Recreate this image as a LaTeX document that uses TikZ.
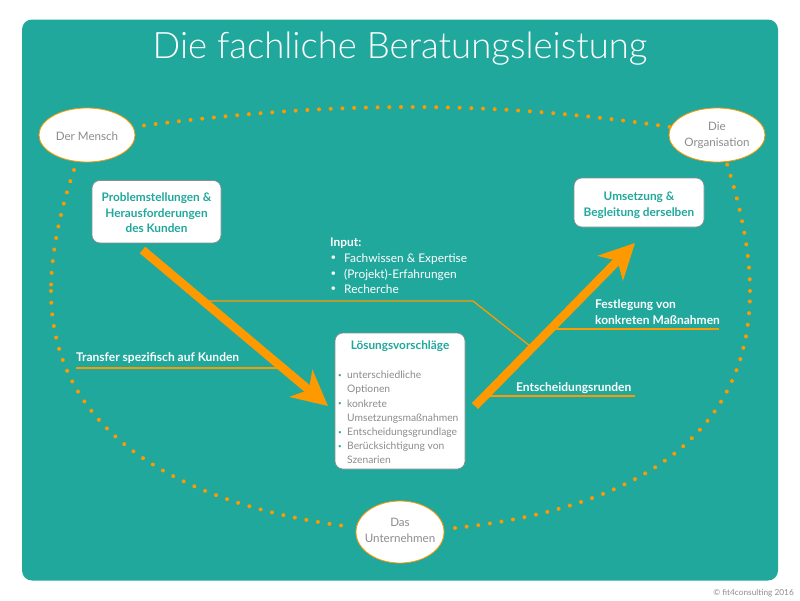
\documentclass[tikz,border=0pt]{standalone}
\usepackage{fontspec}
\setmainfont{Lato}
\newfontfamily\titlefont{Lato Light}
\usepackage{tikz}
\usetikzlibrary{arrows.meta}
\usetikzlibrary{shapes.geometric}
\definecolor{petrol}{HTML}{20A89C}
\definecolor{kante}{HTML}{FF9900}
\definecolor{grautext}{HTML}{8C8C8C}
\newcommand{\punkt}[2]{\makebox[#1][l]{\raisebox{0.15em}{\scalebox{#2}{\textbullet}}}}
\newcommand{\tief}[1]{\rule{0pt}{\dimexpr 0.74em+#1pt+#1pt\relax}}
\begin{document}
\begin{tikzpicture}[x=1pt,y=-1pt]
    \tikzstyle{kreis} = [draw=kante, fill=white, ellipse, line width=0.8pt, inner sep=0pt, minimum width=96pt, minimum height=54pt, align=center, text=grautext, font=\fontsize{11.6}{16}\selectfont];
    \tikzstyle{block} = [draw=grautext, fill=white, rectangle, rounded corners=8pt, line width=0.6pt, inner sep=0pt, align=center, text=petrol, font=\bfseries\fontsize{11.8}{15.6}\selectfont];
    \tikzstyle{hell} = [text=white, inner sep=0pt, align=left, font=\fontsize{11.9}{15.6}\selectfont];
    \tikzstyle{hellfett} = [hell, font=\bfseries\fontsize{12}{15.8}\selectfont];
    \tikzstyle{liste} = [inner sep=0pt, align=left, text=grautext, font=\fontsize{10.3}{14.2}\selectfont];
    \tikzstyle{dots} = [draw=kante, line width=4pt, line cap=round, dash pattern=on 0pt off 11.72pt];
    \tikzstyle{line} = [draw=kante, line width=1.3pt];
    \tikzstyle{pfeil} = [draw=kante, line width=8.5pt, -{Stealth[length=35pt,width=35pt,inset=10pt]}];
    \useasboundingbox (0,0) rectangle (800,600);
    \fill[petrol] (22,19.5) [rounded corners=10pt] rectangle (778,580.5);

    \node[text=white, inner sep=0pt, anchor=base, font=\titlefont\fontsize{36.5}{40}\selectfont] (titel) at (400,58) {Die fachliche Beratungsleistung};

    \node[kreis] (mensch) at (87,135) {\tief{1}Der Mensch};
    \node[kreis] (orga) at (717,135) {\tief{0.7}Die\\Organisation};
    \node[kreis, inner xsep=-4.5pt, minimum width=88pt, minimum height=62pt] (firma) at (400,532) {\raisebox{2.5pt}{Das}\\\raisebox{2.5pt}{Unternehmen}};

    \coordinate (mensch-r) at (144,125.5);
    \coordinate (mensch-u) at (74,170);
    \coordinate (orga-l) at (670,127);
    \coordinate (orga-u) at (727,164);
    \coordinate (firma-l) at (345,526);
    \coordinate (firma-r) at (455,528);
    \coordinate (links) at (51,291);
    \coordinate (rechts) at (750,291);
    \path[dots] (mensch-r) .. controls (338,100.6) and (494,100.6) .. (orga-l);
    \path[dots] (mensch-u) .. controls (62,205) and (51,250) .. (links);
    \path[dots] (links) .. controls (51,435) and (185,505) .. (firma-l);
    \path[dots] (firma-r) .. controls (622,510) and (750,445) .. (rechts);
    \path[dots] (rechts) .. controls (750,250) and (740,205) .. (orga-u);

    \node[block, minimum width=129pt, minimum height=62.5pt] (problem) at (156.5,211.7) {\tief{1}Problemstellungen \&\\Herausforderungen\\des Kunden};
    \node[block, minimum width=130pt, minimum height=49pt] (umsetzung) at (639,202.5) {\tief{2.5}Umsetzung \&\\Begleitung derselben};
    \node[block, minimum width=130pt, minimum height=136pt] (loesung) at (400,401) {};
    \node[inner sep=0pt, anchor=base, text=petrol, font=\bfseries\fontsize{11.8}{15.6}\selectfont] (loesungkopf) at (400,349.5) {Lösungsvorschläge};
    \node[liste, anchor=north west] (loesungliste) at (338,371) {\textcolor{petrol}{\punkt{9pt}{0.6}}unterschiedliche\\\hspace*{9pt}Optionen\\\textcolor{petrol}{\punkt{9pt}{0.6}}konkrete\\\hspace*{9pt}Umsetzungsmaßnahmen\\\textcolor{petrol}{\punkt{9pt}{0.6}}Entscheidungsgrundlage\\\textcolor{petrol}{\punkt{9pt}{0.6}}Berücksichtigung von\\\hspace*{9pt}Szenarien};

    \node[hell, anchor=north west] (input) at (330,238) {\textbf{Input:}\\\hspace*{0.5pt}\punkt{13.5pt}{0.8}Fachwissen \& Expertise\\\hspace*{0.5pt}\punkt{13.5pt}{0.8}(Projekt)-Erfahrungen\\\hspace*{0.5pt}\punkt{13.5pt}{0.8}Recherche};
    \node[hellfett, anchor=base west] (transfer) at (76,361) {Transfer spezifisch auf Kunden};
    \node[hellfett, anchor=north west] (festlegung) at (595,299.5) {Festlegung von\\konkreten Maßnahmen};
    \node[hellfett, anchor=base west] (runden) at (516,391.5) {Entscheidungsrunden};
    \node[text=grautext, inner sep=0pt, anchor=base east, font=\fontsize{8.3}{9}\selectfont] (copy) at (794,595) {© fit4consulting 2016};

    \coordinate (transfer-a) at (76,368);
    \coordinate (transfer-e) at (280,368);
    \coordinate (input-a) at (205,301);
    \coordinate (input-k) at (473,301);
    \coordinate (input-e) at (530,346);
    \coordinate (fest-a) at (552,329);
    \coordinate (fest-e) at (719,329);
    \coordinate (runden-a) at (488,396);
    \coordinate (runden-e) at (635,396);
    \path[line] (transfer-a) -- (transfer-e);
    \path[line] (input-a) -- (input-k) -- (input-e);
    \path[line] (fest-a) -- (fest-e);
    \path[line] (runden-a) -- (runden-e);

    \coordinate (hin-a) at (142.5,250);
    \coordinate (hin-e) at (328,406);
    \coordinate (her-a) at (475,406);
    \coordinate (her-e) at (635,243);
    \path[pfeil] (hin-a) -- (hin-e);
    \path[pfeil] (her-a) -- (her-e);
\end{tikzpicture}
\end{document}
